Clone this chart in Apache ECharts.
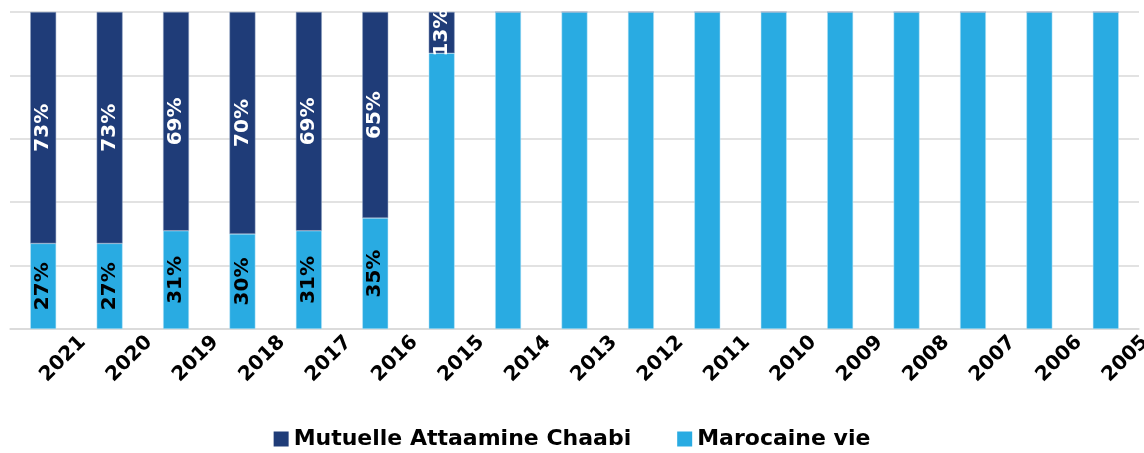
<!DOCTYPE html>
<html><head><meta charset="utf-8">
<script src="https://cdn.jsdelivr.net/npm/echarts@6/dist/echarts.min.js"></script>
<style>html,body{margin:0;padding:0;background:#fff}#c{width:1144px;height:453px}</style>
</head><body><div id="c"></div>
<script>
const categories = ['2021','2020','2019','2018','2017','2016','2015','2014','2013','2012','2011','2010','2009','2008','2007','2006','2005'];
const mutuelle = [73,73,69,70,69,65,13,0,0,0,0,0,0,0,0,0,0];
const marocaine = [27,27,31,30,31,35,87,100,100,100,100,100,100,100,100,100,100];
const seriesNames = ['Mutuelle Attaamine Chaabi','Marocaine vie'];
const FONT = 'DejaVu Sans';
const chart = echarts.init(document.getElementById('c'));
function lbl(color, showIf){
  return {show:true, position:'inside', rotate:90, color:color, fontFamily:FONT, fontWeight:'bold', fontSize:20,
    formatter:p=>showIf(p.value)?p.value+'%':''};
}
chart.setOption({
  animation:false,
  grid:{left:10,right:5,top:12,height:317,containLabel:false,outerBoundsMode:'none'},
  legend:{data:seriesNames, bottom:-2, left:'center', icon:'rect', itemWidth:15, itemHeight:15, itemGap:46,
    itemStyle:{borderWidth:0},
    textStyle:{fontFamily:FONT, fontWeight:'bold', fontSize:22, color:'#000'}},
  xAxis:{type:'category', data:categories,
    axisLine:{lineStyle:{color:'#d9d9d9', width:1.5}}, axisTick:{show:false},
    axisLabel:{rotate:45, align:'center', verticalAlign:'top', lineHeight:56, margin:10, interval:0,
      fontFamily:FONT, fontWeight:'bold', fontSize:20, color:'#000'}},
  yAxis:{type:'value', min:0, max:100, interval:20, axisLabel:{show:false}, axisLine:{show:false}, axisTick:{show:false},
    splitLine:{lineStyle:{color:'#d9d9d9', width:1.5}}},
  series:[
    {name:seriesNames[1], type:'bar', stack:'s', data:marocaine, barCategoryGap:'61%',
      itemStyle:{color:'#29ABE2', borderColor:'#bfe6f7', borderWidth:0.5}, label:lbl('#000', v=>v<50)},
    {name:seriesNames[0], type:'bar', stack:'s', data:mutuelle, barCategoryGap:'61%',
      itemStyle:{color:'#1F3C78', borderColor:'#8fa0c0', borderWidth:0.5}, label:lbl('#fff', v=>v>0)}
  ]
});
</script></body></html>
